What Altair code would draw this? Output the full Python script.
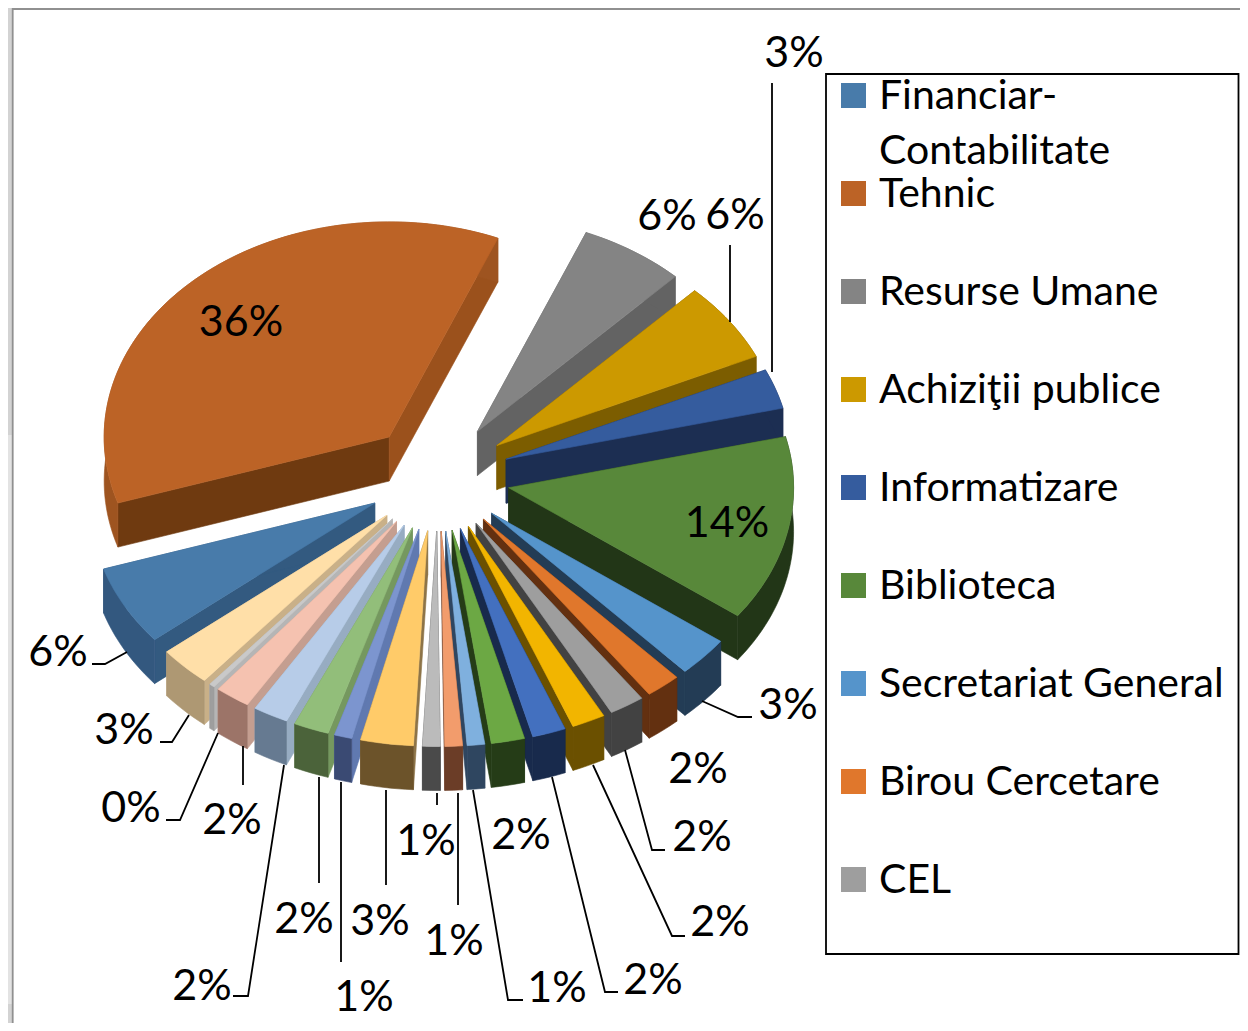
import math
import altair as alt
import pandas as pd

# ---- data ----
names = ["Financiar-\nContabilitate", "Tehnic", "Resurse Umane", "Achiziţii publice", "Informatizare",
         "Biblioteca", "Secretariat General", "Birou Cercetare", "CEL"]
values = [6, 36.3, 6, 6, 3, 14, 3, 2, 2, 1.9, 1.9, 1.9, 1, 1, 1, 3, 1, 2, 2, 2, 0.3, 3]
top_col = ["#487BAA", "#BC6326", "#848484", "#CC9900", "#355C9E", "#58883A", "#5594CB", "#E0772C", "#9E9E9E",
           "#F2B500", "#4370BF", "#6CA844", "#7FB0DE", "#F29C6C", "#BBBBBB", "#FFCB69", "#7C95CF", "#92BE7A",
           "#B7CCE8", "#F5C2B0", "#C9C9C9", "#FFDFA8"]
outer_col = ["#33587F", "#9E5420", "#636363", "#7C5D00", "#1C2E52", "#223617", "#233C55", "#633010", "#424242",
             "#6B5000", "#182A4C", "#253C17", "#2F4660", "#6B3D27", "#4A4A4A", "#6C532A", "#3A4A73", "#4B633A",
             "#667A91", "#9C7468", "#9E9E9E", "#AE9873"]
start_col = ["#335A80", "#6F3A10", "#636363", "#7C5D00", "#1C2E52", "#223617", "#233C55", "#633010", "#424242",
             "#6B5000", "#182A4C", "#253C17", "#2F4660", "#6B3D27", "#4A4A4A", "#8D7448", "#6079B0", "#75985F",
             "#97ACC2", "#C49E90", "#B5B5B5", "#C9B088"]
end_col = ["#335A80", "#9B511C", "#636363", "#7C5D00", "#1C2E52", "#223617", "#233C55", "#633010", "#424242",
           "#6B5000", "#182A4C", "#253C17", "#2F4660", "#6B3D27", "#4A4A4A", "#8D7448", "#6079B0", "#75985F",
           "#97ACC2", "#C49E90", "#B5B5B5", "#C9B088"]
label_x = [58, 241, 667, 735, 794, 727, 788, 698, 702, 720, 653, 521, 557, 454, 426, 380, 364, 304, 202, 232, 131, 124]
label_y = [653, 323, 217, 216, 54, 524, 706, 770, 838, 923, 981, 836, 989, 942, 842, 922, 998, 920, 987, 821, 809, 731]
leaders = [
    [(92, 664), (105, 664), (127, 652)],
    [(160, 742), (172, 742), (189, 715)],
    [(166, 820), (180, 820), (218, 733)],
    [(243, 746), (243, 785)],
    [(233, 996), (248, 996), (284, 765)],
    [(319, 777), (319, 883)],
    [(341, 782), (341, 962)],
    [(386, 790), (386, 885)],
    [(437, 793), (437, 805)],
    [(458, 793), (458, 905)],
    [(473, 790), (508, 1000), (523, 1000)],
    [(552, 777), (605, 992), (618, 992)],
    [(593, 765), (672, 936), (685, 936)],
    [(625, 750), (652, 850), (665, 850)],
    [(702, 701), (738, 717), (752, 717)],
    [(730, 245), (730, 322)],
    [(772, 83), (772, 372)],
]

# ---- view of the 3-D pie ----
CX, CY = 438, 477
R, E, K, D, P = 285, 72, 0.755, 44, 0.0
START = 140.6
total = sum(values)


def proj(X, Y, z=0.0):
    s = 1 + P * Y / R
    return [CX + X * s, CY + K * Y * s + z]


def poly(pts, fill, order):
    ring = pts + [pts[0]]
    return {"type": "Feature", "geometry": {"type": "Polygon", "coordinates": [ring]},
            "properties": {"fill": fill, "order": order}}


slices = []
a0 = START
for i, v in enumerate(values):
    sweep = 360 * v / total
    a1 = a0 + sweep
    m = math.radians((a0 + a1) / 2)
    ox, oy = E * math.cos(m), E * math.sin(m)
    n = max(2, int(sweep / 1.5))
    angs = [math.radians(a0 + (a1 - a0) * j / n) for j in range(n + 1)]
    rim = [(ox + R * math.cos(t), oy + R * math.sin(t)) for t in angs]
    slices.append((math.sin(m), i, (ox, oy), rim))
    a0 = a1

features = []
for _, i, (ox, oy), rim in sorted(slices, key=lambda s: s[0]):
    ap_t, ap_b = proj(ox, oy), proj(ox, oy, D)
    first_t, first_b = proj(*rim[0]), proj(*rim[0], D)
    last_t, last_b = proj(*rim[-1]), proj(*rim[-1], D)
    features.append(poly([ap_t, first_t, first_b, ap_b], start_col[i], i))
    features.append(poly([ap_t, last_t, last_b, ap_b], end_col[i], i))
    features.append(poly([proj(*p) for p in rim] + [proj(*p, D) for p in reversed(rim)], outer_col[i], i))
    features.append(poly([ap_t] + [proj(*p) for p in rim], top_col[i], i))

pct = [f"{round(v / total * 100)}%" for v in values]

# ---- scales: reference pixel -> plot pixel ----
xs = alt.Scale(domain=[0, 1248], range=[-8, 1240])
ys = alt.Scale(domain=[0, 1031], range=[-8, 1023])
FONT = "Lato"

bg = pd.DataFrame({"x": [0, 0, 12.7, 826], "x2": [1260, 12, 1260, 1238.5], "y": [0, 436, 9, 74], "y2": [1040, 1003, 1040, 954],
                   "fill": ["#D3D3D3", "#E3E3E3", "#FFFFFF", "#FFFFFF"],
                   "stroke": ["#D3D3D3", "#E3E3E3", "#909090", "#000000"]})
bg_layer = alt.Chart(bg).mark_rect(strokeWidth=1.8).encode(
    x=alt.X("x:Q", scale=xs, axis=None), x2="x2:Q",
    y=alt.Y("y:Q", scale=ys, axis=None), y2="y2:Q",
    fill=alt.Fill("fill:N", scale=None), stroke=alt.Stroke("stroke:N", scale=None),
    order=alt.Order("x:Q"))

pie = alt.Chart(alt.InlineData(values=features, format=alt.DataFormat(type="json"))).mark_geoshape(strokeWidth=0.6).encode(
    fill=alt.Fill("properties.fill:N", scale=None),
    stroke=alt.Stroke("properties.fill:N", scale=None),
).project(type="identity", scale=1, translate=[-8, -8])

lead = pd.DataFrame([{"id": k, "o": j, "x": p[0], "y": p[1]} for k, l in enumerate(leaders) for j, p in enumerate(l)])
lead_layer = alt.Chart(lead).mark_line(color="#000000", strokeWidth=1.8).encode(
    x=alt.X("x:Q", scale=xs, axis=None), y=alt.Y("y:Q", scale=ys, axis=None),
    detail="id:N", order="o:Q")

lab = pd.DataFrame({"x": label_x, "y": label_y, "t": pct})
lab_layer = alt.Chart(lab).mark_text(font=FONT, fontSize=43, color="#000000", align="center", baseline="middle").encode(
    x=alt.X("x:Q", scale=xs, axis=None), y=alt.Y("y:Q", scale=ys, axis=None), text="t:N")

leg = pd.DataFrame({"row": list(range(9)), "t": names, "c": top_col[:9], "sx": 853.5, "tx": 879})
rows = alt.Scale(domain=[0, 8], range=[87.5, 871.5])
sw = alt.Chart(leg).mark_square(size=625, opacity=1, strokeWidth=0).encode(
    x=alt.X("sx:Q", scale=xs, axis=None), y=alt.Y("row:Q", scale=rows, axis=None),
    color=alt.Color("c:N", scale=None))
leg_txt = alt.Chart(leg).mark_text(font=FONT, fontSize=41, align="left", baseline="line-top", lineBreak="\n",
                                   lineHeight=55, dy=-26, color="#000000").encode(
    x=alt.X("tx:Q", scale=xs, axis=None), y=alt.Y("row:Q", scale=rows, axis=None), text="t:N")

chart = alt.layer(bg_layer, pie, lead_layer, lab_layer, sw, leg_txt).resolve_scale(y="independent", x="independent").properties(
    width=1232, height=1015, padding=0, autosize=alt.AutoSizeParams(type="none"), background="#FFFFFF"
).configure_view(stroke=None)

chart.save("out.html", embed_options={"renderer": "svg", "actions": False})
